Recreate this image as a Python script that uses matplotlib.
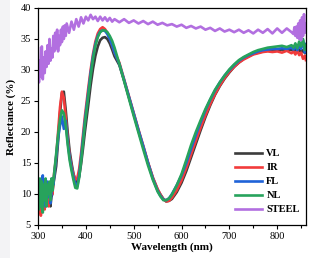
import matplotlib
matplotlib.use('Agg')
import matplotlib.pyplot as plt
from matplotlib.patches import Rectangle
from matplotlib.ticker import MultipleLocator

plt.rcParams['font.family'] = ['Liberation Serif', 'DejaVu Serif']

# wavelength grid shared by the four samples (nm)
wl = [300, 302, 304, 306, 308, 310, 312, 314, 316, 318, 320, 322, 324, 326, 328, 330, 332, 334,
      338, 342, 346, 350, 354, 358, 362, 366, 370, 374, 378, 382, 386, 390, 394, 398,
      405, 410, 415, 420, 425, 430, 435, 440, 445, 450, 455, 460,
      470, 480, 490, 500, 510, 520, 530, 540, 550,
      556, 562, 568, 574,
      580, 590, 600, 610, 620, 630, 640, 650, 660, 670, 680, 690, 700, 710, 720, 730,
      740, 750, 760, 770, 780, 790, 800, 810, 820, 830,
      834, 838, 842, 846, 850, 854, 858, 860]

vl = [10.5, 8.0, 11.0, 9.0, 12.0, 8.5, 10.5, 9.5, 11.5, 8.5, 10.0, 9.0, 11.0, 8.0, 9.5, 10.0, 11.5, 12.5,
      14.5, 18.5, 23.0, 26.3, 26.5, 23.5, 20.0, 17.0, 15.0, 13.3, 12.2, 11.8, 12.8, 14.8, 17.3, 20.0,
      24.3, 27.5, 30.2, 32.3, 33.8, 34.8, 35.2, 35.3, 35.0, 34.3, 33.3, 32.2,
      30.8, 28.3, 25.6, 22.9, 20.2, 17.6, 15.0, 12.6, 10.7,
      9.9, 9.2, 8.8, 8.9,
      9.2, 10.3, 11.8, 13.7, 15.9, 18.1, 20.3, 22.4, 24.3, 26.0, 27.4, 28.6, 29.6, 30.5, 31.2, 31.8,
      32.2, 32.6, 32.8, 33.0, 33.1, 33.2, 33.2, 33.3, 33.2, 33.3,
      33.0, 33.4, 32.9, 33.3, 32.8, 33.2, 32.7, 33.0]

ir = [9.5, 7.0, 11.5, 6.5, 10.5, 8.0, 12.0, 7.5, 10.0, 9.0, 11.5, 8.0, 10.5, 9.0, 11.0, 10.0, 12.0, 13.5,
      16.0, 20.0, 24.0, 26.5, 25.5, 22.3, 19.0, 16.3, 14.5, 13.2, 12.3, 12.5, 14.0, 16.5, 19.5, 22.5,
      27.0, 30.0, 32.6, 34.6, 35.9, 36.6, 36.9, 36.6, 36.0, 35.1, 34.0, 32.8,
      31.2, 28.5, 25.8, 23.1, 20.4, 17.8, 15.1, 12.7, 10.8,
      9.9, 9.2, 8.8, 8.9,
      9.4, 10.6, 12.2, 14.2, 16.4, 18.6, 20.7, 22.7, 24.5, 26.1, 27.5, 28.7, 29.7, 30.5, 31.2, 31.7,
      32.1, 32.5, 32.7, 32.9, 33.0, 32.9, 33.0, 32.8, 33.1, 32.7,
      33.0, 32.5, 33.1, 32.4, 32.8, 31.8, 32.3, 31.6]

fl = [10.0, 8.5, 12.0, 9.5, 11.0, 13.0, 9.0, 11.5, 8.0, 10.5, 12.0, 9.5, 11.0, 8.5, 10.0, 12.5, 11.5, 13.0,
      16.0, 19.0, 21.0, 22.5, 20.5, 21.8, 18.5, 16.0, 14.2, 12.8, 11.5, 11.2, 13.0, 15.8, 18.8, 21.8,
      26.3, 29.5, 32.2, 34.2, 35.5, 36.2, 36.4, 36.3, 35.8, 35.0, 34.0, 32.8,
      31.0, 28.4, 25.7, 23.0, 20.3, 17.7, 15.0, 12.5, 10.5,
      9.7, 9.1, 9.0, 9.3,
      10.0, 11.4, 13.0, 15.0, 17.3, 19.5, 21.6, 23.5, 25.2, 26.7, 28.0, 29.1, 30.0, 30.8, 31.5, 32.0,
      32.4, 32.7, 33.0, 33.2, 33.3, 33.4, 33.4, 33.5, 33.4, 33.6,
      33.3, 33.8, 33.2, 34.0, 33.4, 34.8, 32.8, 34.2]

nl = [11.0, 7.5, 12.5, 8.0, 12.0, 7.0, 11.5, 9.0, 12.5, 8.0, 11.5, 10.0, 12.0, 9.0, 12.5, 10.5, 12.0, 13.5,
      16.5, 19.5, 22.0, 23.5, 23.0, 21.0, 18.0, 15.5, 13.8, 12.3, 11.0, 10.9, 12.6, 15.2, 18.2, 21.3,
      25.8, 29.0, 31.8, 33.9, 35.3, 36.1, 36.4, 36.4, 36.1, 35.5, 34.7, 33.6,
      31.0, 28.2, 25.4, 22.6, 19.9, 17.2, 14.6, 12.3, 10.4,
      9.6, 9.0, 9.0, 9.3,
      9.9, 11.4, 13.2, 15.5, 17.9, 20.0, 21.9, 23.7, 25.3, 26.8, 28.0, 29.1, 30.1, 30.9, 31.6, 32.1,
      32.5, 32.9, 33.2, 33.4, 33.6, 33.7, 33.8, 33.9, 33.7, 34.0,
      33.6, 34.3, 33.5, 34.6, 33.8, 35.0, 33.2, 34.0]

# steel reference on its own grid
wl_steel = [300, 302, 304, 306, 308, 310, 312, 314, 316, 318, 320, 322, 324, 326, 328, 330,
            332, 334, 336, 338, 340, 342, 344, 346, 348, 350, 352, 354, 356, 358, 360,
            365, 370, 375, 380, 385, 390, 395, 400, 405, 410, 415, 420,
            425, 430, 435, 440, 445, 450, 455, 460, 470, 480, 490, 500, 510, 520, 530, 540,
            550, 560, 570, 580, 590, 600, 610, 620, 630, 640, 650, 660, 670, 680, 690, 700,
            710, 720, 730, 740, 750, 760, 770, 780, 790, 800, 810, 820, 830,
            834, 836, 838, 840, 842, 844, 846, 848, 850, 852, 854, 856, 858, 860]
steel = [33.5, 28.0, 31.5, 29.0, 33.8, 28.5, 32.0, 29.5, 33.0, 30.5, 34.0, 31.0, 35.0, 31.5, 33.5, 32.0,
         35.5, 33.0, 36.0, 33.5, 36.5, 33.0, 35.5, 34.0, 36.5, 34.5, 37.0, 35.0, 37.2, 35.5, 37.5,
         36.0, 37.8, 36.5, 38.2, 37.0, 38.5, 37.5, 38.6, 38.0, 38.9, 38.2, 38.6,
         37.9, 38.6, 38.0, 38.5, 37.9, 38.4, 37.8, 38.2, 37.7, 38.2, 37.6, 38.0, 37.5, 37.9, 37.4, 37.8,
         37.3, 37.6, 37.2, 37.4, 37.0, 37.3, 36.8, 37.1, 36.7, 37.0, 36.5, 36.8, 36.3, 36.7, 36.2, 36.5,
         36.1, 36.5, 36.0, 36.4, 35.9, 36.5, 36.0, 36.6, 35.9, 36.7, 36.0, 36.7, 36.1,
         35.8, 36.9, 35.5, 37.0, 35.2, 37.5, 35.0, 38.0, 34.8, 38.5, 35.5, 39.0, 36.0, 37.5]

fig = plt.figure(figsize=(3.22, 2.58), dpi=100)
ax = fig.add_axes([0.118, 0.128, 0.832, 0.841])

lw = 1.9
ax.plot(wl, vl, color='#3c3c3c', lw=lw, label='VL')
ax.plot(wl, ir, color='#f23b3b', lw=lw, label='IR')
ax.plot(wl, fl, color='#1f63d8', lw=lw, label='FL')
ax.plot(wl, nl, color='#27a35c', lw=lw, label='NL')
ax.plot(wl_steel, steel, color='#b26fe0', lw=lw, label='STEEL')

ax.set_xlim(300, 860)
ax.set_ylim(5, 40)
ax.xaxis.set_major_locator(MultipleLocator(100))
ax.xaxis.set_minor_locator(MultipleLocator(50))
ax.yaxis.set_major_locator(MultipleLocator(5))
ax.tick_params(axis='both', which='major', direction='out', length=3, width=0.8,
               labelsize=7.5, pad=2)
ax.tick_params(axis='both', which='minor', direction='out', length=2, width=0.8)
for s in ax.spines.values():
    s.set_linewidth(0.9)

ax.set_xlabel('Wavelength (nm)', fontsize=8, fontweight='bold', labelpad=1)
ax.set_ylabel('Reflectance (%)', fontsize=8, fontweight='bold')
ax.yaxis.set_label_coords(-0.082, 0.5)

leg = ax.legend(loc='lower right', bbox_to_anchor=(1.0, 0.02), frameon=False,
                prop={'weight': 'bold', 'size': 7.5}, handlelength=2.6,
                labelspacing=0.45, handletextpad=0.4, borderaxespad=0.2)

# light grey strip along the left edge of the picture
fig.patches.append(Rectangle((0, 0), 10 / 322, 1, transform=fig.transFigure,
                             facecolor='#f3f3f5', edgecolor='none', zorder=-10))

fig.savefig('out.png', dpi=100)
